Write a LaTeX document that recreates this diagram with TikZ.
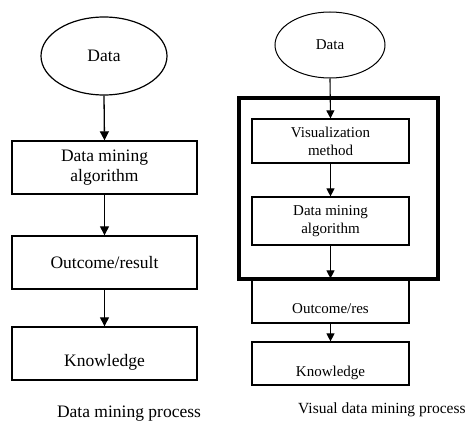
\documentclass[tikz,border=0pt]{standalone}
\usepackage{fontspec}
\setmainfont{Liberation Serif}
\usetikzlibrary{arrows.meta,shapes.geometric}
\begin{document}
\begin{tikzpicture}[x=1pt,y=-1pt,
  lbox/.style={draw,line width=1.4pt,minimum width=185pt,minimum height=53pt,inner sep=0pt,align=center,font=\fontsize{17.5}{20}\selectfont},
  rbox/.style={draw,line width=1.2pt,minimum width=157pt,inner sep=0pt,align=center,font=\fontsize{15}{18}\selectfont},
  txt/.style={inner sep=0pt},
  arr/.style={line width=1.3pt,-{Triangle[length=9pt,width=9pt]}},
  rarr/.style={line width=1.1pt,-{Triangle[length=8pt,width=8pt]}}]
\useasboundingbox (0,0) rectangle (475,423);
% left column
\node[draw,ellipse,line width=1.2pt,minimum width=126pt,minimum height=78pt,inner sep=0pt,font=\fontsize{17.5}{20}\selectfont] (ld) at (104,56) {Data};
\node[lbox] (la) at (104.5,167.5) {Data mining\\algorithm};
\node[lbox] (lo) at (104.5,262.5) {Outcome/result};
\node[lbox] (lk) at (104.5,353.5) {};
\node[txt,font=\fontsize{17.5}{20}\selectfont] (lkt) at (104.5,362) {Knowledge};
\node[txt,font=\fontsize{17.5}{20}\selectfont] (lcap) at (129,414) {Data mining process};
\draw[arr] (ld.south) -- (la.north);
\draw[arr] (la.south) -- (lo.north);
\draw[arr] (lo.south) -- (lk.north);
% right column
\node[draw,ellipse,line width=1pt,minimum width=110pt,minimum height=66pt,inner sep=0pt,font=\fontsize{15}{18}\selectfont] (rd) at (330,45) {Data};
\node[draw,line width=4pt,minimum width=199pt,minimum height=181pt,inner sep=0pt] (frame) at (338.5,188.5) {};
\node[rbox,minimum height=44pt] (rv) at (330.5,141) {Visualization\\method};
\node[rbox,minimum height=48pt] (ra) at (330.5,221) {Data mining\\algorithm};
\node[rbox,minimum height=44pt] (ro) at (330.5,301) {};
\node[txt,font=\fontsize{15}{18}\selectfont] (rot) at (330.5,309) {Outcome/res};
\node[rbox,minimum height=43pt] (rk) at (330.5,363.5) {};
\node[txt,font=\fontsize{15}{18}\selectfont] (rkt) at (330.5,373) {Knowledge};
\node[txt,anchor=west,font=\fontsize{15.5}{18}\selectfont] (rcap) at (298,410) {Visual data mining process};
\draw[rarr] (rd.south) -- (rv.north);
\draw[rarr] (rv.south) -- (ra.north);
\draw[rarr] (ra.south) -- (ro.north);
\draw[rarr] (ro.south) -- (rk.north);
\end{tikzpicture}
\end{document}
